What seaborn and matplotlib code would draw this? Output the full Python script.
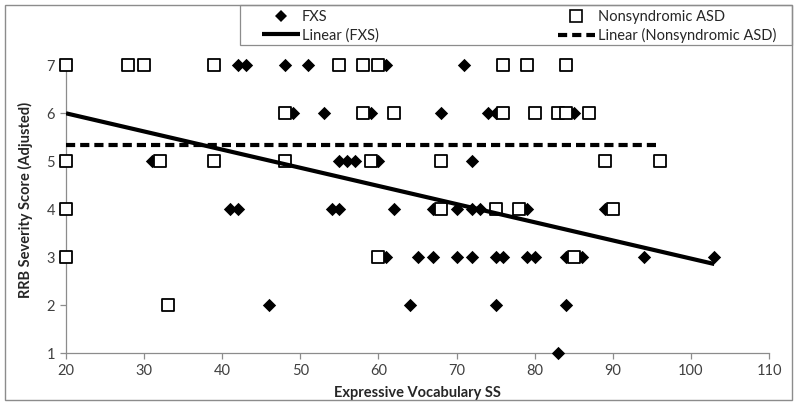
import matplotlib
matplotlib.use("Agg")
import matplotlib.pyplot as plt
from matplotlib.lines import Line2D
from matplotlib.patches import Rectangle
import seaborn as sns

# ---- data ----
fxs_x = [42, 43, 48, 51, 61, 71,
         49, 53, 59, 68, 74, 75, 85,
         31, 55, 56, 57, 60, 72,
         41, 42, 54, 55, 62, 67, 70, 72, 73, 79, 89,
         61, 65, 67, 70, 72, 75, 76, 79, 80, 84, 86, 94, 103,
         46, 64, 75, 84,
         83]
fxs_y = [7, 7, 7, 7, 7, 7,
         6, 6, 6, 6, 6, 6, 6,
         5, 5, 5, 5, 5, 5,
         4, 4, 4, 4, 4, 4, 4, 4, 4, 4, 4,
         3, 3, 3, 3, 3, 3, 3, 3, 3, 3, 3, 3, 3,
         2, 2, 2, 2,
         1]
asd_x = [20, 28, 30, 39, 55, 58, 60, 76, 79, 84,
         48, 58, 62, 76, 80, 83, 84, 87,
         20, 32, 39, 48, 59, 68, 89, 96,
         20, 68, 75, 78, 90,
         20, 60, 85,
         33]
asd_y = [7, 7, 7, 7, 7, 7, 7, 7, 7, 7,
         6, 6, 6, 6, 6, 6, 6, 6,
         5, 5, 5, 5, 5, 5, 5, 5,
         4, 4, 4, 4, 4,
         3, 3, 3,
         2]
fxs_trend_x = [20, 103]
fxs_trend_y = [6.0, 2.86]
asd_trend_x = [20, 96]
asd_trend_y = [5.35, 5.35]

series_labels = ["FXS", "Nonsyndromic ASD", "Linear (FXS)", "Linear (Nonsyndromic ASD)"]
x_ticks = [20, 30, 40, 50, 60, 70, 80, 90, 100, 110]
y_ticks = [1, 2, 3, 4, 5, 6, 7]
x_label = "Expressive Vocabulary SS"
y_label = "RRB Severity Score (Adjusted)"

# ---- style ----
sns.set_style("ticks")
plt.rcParams["font.family"] = ["Lato", "DejaVu Sans"]

W, H = 800, 413
fig = plt.figure(figsize=(W / 100, H / 100), dpi=100)
ax = fig.add_axes([66 / W, 1 - 353.3 / H, (769 - 66) / W, (353.3 - 65.3) / H])

sns.scatterplot(x=fxs_x, y=fxs_y, marker="D", s=46, color="black",
                edgecolor="black", linewidth=0, ax=ax, zorder=3)
sns.scatterplot(x=asd_x, y=asd_y, marker="s", s=64, facecolor="white",
                edgecolor="black", linewidth=1.3, ax=ax, zorder=4)
for coll in ax.collections:
    coll.set_clip_on(False)

sns.lineplot(x=fxs_trend_x, y=fxs_trend_y, color="black", linewidth=3,
             ax=ax, zorder=5)
sns.lineplot(x=asd_trend_x, y=asd_trend_y, color="black", linewidth=3,
             ax=ax, zorder=5)
ax.lines[-1].set_dashes((2.2, 1.2))
for ln in ax.lines:
    ln.set_solid_capstyle("butt")
    ln.set_dash_capstyle("butt")

ax.set_xlim(20, 110)
ax.set_ylim(1, 7)
ax.set_xticks(x_ticks)
ax.set_yticks(y_ticks)
for s in ("top", "right"):
    ax.spines[s].set_visible(False)
for s in ("left", "bottom"):
    ax.spines[s].set_color("#8c8c8c")
    ax.spines[s].set_linewidth(0.9)
ax.tick_params(direction="out", length=4, width=0.9, color="#8c8c8c",
               labelcolor="#404040", labelsize=10.5, pad=4)

ax.set_xlabel(x_label, fontweight="bold", fontsize=10.5, color="#262626")
ax.set_ylabel(y_label, fontweight="bold", fontsize=10.5, color="#262626")
ax.xaxis.set_label_coords(0.5, -0.113)
ax.yaxis.set_label_coords(-0.047, 0.532)

# ---- legend ----
handles = [
    Line2D([], [], marker="D", color="black", linestyle="none", markersize=6.5,
           markeredgewidth=0),
    Line2D([], [], color="black", linewidth=3, solid_capstyle="butt"),
    Line2D([], [], marker="s", markerfacecolor="white", markeredgecolor="black",
           linestyle="none", markersize=8, markeredgewidth=1.2),
    Line2D([], [], color="black", linewidth=3, dashes=(2.2, 1.2),
           dash_capstyle="butt"),
]
labels = [series_labels[0], series_labels[2], series_labels[1], series_labels[3]]
leg = fig.legend(handles, labels, ncol=2, loc="lower left", mode="expand",
                 bbox_to_anchor=(262 / W, 1 - 43 / H, (776 - 262) / W, 34 / H),
                 bbox_transform=fig.transFigure, frameon=False,
                 fontsize=10.5, handlelength=2.6, handletextpad=0.15,
                 labelspacing=0.25, borderpad=0, borderaxespad=0)
for t in leg.get_texts():
    t.set_color("#262626")

# legend frame
fig.patches.append(Rectangle((240 / W, 1 - 45 / H), (792 - 240) / W, (45 - 5) / H,
                             transform=fig.transFigure, fill=False,
                             edgecolor="#8c8c8c", linewidth=0.9))
# ---- outer chart border ----
fig.patches.append(Rectangle((5 / W, 1 - 400 / H), (792 - 5) / W, (400 - 5) / H,
                             transform=fig.transFigure, fill=False,
                             edgecolor="#8c8c8c", linewidth=1.0))

fig.savefig("out.png", dpi=100, facecolor="white")
